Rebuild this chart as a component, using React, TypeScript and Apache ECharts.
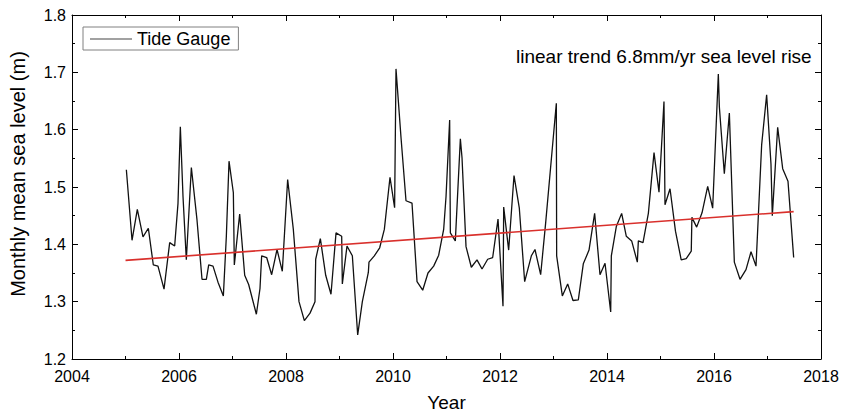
import React, { useEffect, useRef } from "react";
import * as echarts from "echarts";

// Tide gauge monthly mean sea level (decimal year, metres)
const sampleYears = [
  2005.016, 2005.122, 2005.221, 2005.327, 2005.427, 2005.52, 2005.607, 2005.72, 2005.826, 2005.919,
  2005.981, 2006.025, 2006.075, 2006.137, 2006.231, 2006.336, 2006.43, 2006.511, 2006.555, 2006.636,
  2006.729, 2006.829, 2006.885, 2006.935, 2007.016, 2007.034, 2007.134, 2007.228, 2007.302, 2007.446,
  2007.514, 2007.545, 2007.639, 2007.732, 2007.832, 2007.931, 2008.031, 2008.137, 2008.243, 2008.343,
  2008.449, 2008.542, 2008.555, 2008.642, 2008.742, 2008.841, 2008.935, 2009.041, 2009.053, 2009.14,
  2009.24, 2009.34, 2009.427, 2009.539, 2009.551, 2009.651, 2009.751, 2009.838, 2009.944, 2010.03,
  2010.056, 2010.15, 2010.243, 2010.355, 2010.449, 2010.555, 2010.654, 2010.76, 2010.854, 2010.947,
  2010.991, 2011.059, 2011.072, 2011.165, 2011.259, 2011.29, 2011.365, 2011.464, 2011.57, 2011.664,
  2011.77, 2011.863, 2011.963, 2012.056, 2012.069, 2012.162, 2012.262, 2012.361, 2012.461, 2012.586,
  2012.654, 2012.76, 2012.853, 2013.053, 2013.059, 2013.165, 2013.265, 2013.364, 2013.464, 2013.557,
  2013.664, 2013.769, 2013.869, 2013.963, 2014.069, 2014.081, 2014.174, 2014.274, 2014.361, 2014.461,
  2014.567, 2014.586, 2014.673, 2014.773, 2014.879, 2014.972, 2015.065, 2015.084, 2015.178, 2015.28,
  2015.387, 2015.48, 2015.575, 2015.587, 2015.676, 2015.776, 2015.882, 2015.975, 2016.081, 2016.1,
  2016.193, 2016.287, 2016.38, 2016.486, 2016.598, 2016.692, 2016.785, 2016.891, 2016.984, 2017.065,
  2017.09, 2017.19, 2017.284, 2017.383, 2017.489,
];
const seaLevel = [
  1.53, 1.407, 1.461, 1.413, 1.428, 1.364, 1.362, 1.322, 1.403, 1.397,
  1.471, 1.605, 1.483, 1.373, 1.534, 1.443, 1.339, 1.339, 1.364, 1.362,
  1.334, 1.31, 1.414, 1.545, 1.49, 1.364, 1.453, 1.346, 1.33, 1.278,
  1.323, 1.38, 1.377, 1.347, 1.391, 1.353, 1.513, 1.426, 1.3, 1.267,
  1.28, 1.3, 1.374, 1.41, 1.346, 1.313, 1.42, 1.414, 1.331, 1.397,
  1.38, 1.242, 1.3, 1.351, 1.369, 1.38, 1.394, 1.426, 1.517, 1.464,
  1.706, 1.586, 1.476, 1.472, 1.335, 1.32, 1.35, 1.362, 1.381, 1.426,
  1.483, 1.617, 1.42, 1.406, 1.584, 1.551, 1.396, 1.36, 1.373, 1.357,
  1.374, 1.377, 1.444, 1.292, 1.465, 1.39, 1.52, 1.463, 1.335, 1.38,
  1.391, 1.347, 1.437, 1.646, 1.38, 1.31, 1.331, 1.302, 1.303, 1.366,
  1.39, 1.454, 1.347, 1.367, 1.282, 1.38, 1.431, 1.454, 1.414, 1.406,
  1.369, 1.406, 1.403, 1.454, 1.56, 1.491, 1.649, 1.469, 1.497, 1.423,
  1.373, 1.375, 1.388, 1.447, 1.43, 1.455, 1.501, 1.463, 1.697, 1.64,
  1.523, 1.629, 1.369, 1.339, 1.356, 1.387, 1.362, 1.574, 1.661, 1.54,
  1.45, 1.604, 1.532, 1.51, 1.377,
];

// Linear trend (6.8 mm/yr) end points
const trendYears = [2005.0, 2017.489];
const trendLevels = [1.372, 1.457];

const xTickRange = [2004, 2018];
const yTickRange = [1.2, 1.8];

const seriesName = "Tide Gauge";
const annotation = "linear trend 6.8mm/yr sea level rise";
const xTitle = "Year";
const yTitle = "Monthly mean sea level (m)";

const FONT = "'Liberation Sans', Arial, Helvetica, sans-serif";

export default function App() {
  const ref = useRef<HTMLDivElement>(null);

  useEffect(() => {
    if (!ref.current) return;
    const chart = echarts.init(ref.current, null, { renderer: "svg" });

    const gaugeData = sampleYears.map((y, i) => [y, seaLevel[i]]);
    const trendData = trendYears.map((y, i) => [y, trendLevels[i]]);

    const black = "#000";
    const axisCommon = {
      axisLine: { show: true, onZero: false, lineStyle: { color: black, width: 1 } },
      axisTick: { show: true, inside: true, length: 6, lineStyle: { color: black, width: 1 } },
      minorTick: { show: true, splitNumber: 2, length: 3, lineStyle: { color: black, width: 1 } },
      splitLine: { show: false },
    };

    chart.setOption({
      animation: false,
      backgroundColor: "#fff",
      textStyle: { fontFamily: FONT },
      grid: { left: 72, right: 27, top: 15, bottom: 52, containLabel: false },
      legend: {
        data: [{ name: seriesName, icon: "rect" }],
        left: 83,
        top: 27,
        orient: "horizontal",
        itemWidth: 42,
        itemHeight: 1,
        itemGap: 5,
        padding: [3, 8, 2, 7],
        borderColor: "#808080",
        borderWidth: 1,
        itemStyle: { color: "#444" },
        textStyle: { fontSize: 18, color: black, fontFamily: FONT },
      },
      xAxis: [
        {
          type: "value",
          position: "bottom",
          min: xTickRange[0],
          max: xTickRange[1],
          interval: 2,
          ...axisCommon,
          axisLabel: {
            color: black,
            fontSize: 16,
            fontFamily: FONT,
            margin: 9,
            formatter: (v: number) => String(v),
          },
          name: xTitle,
          nameLocation: "middle",
          nameGap: 34,
          nameTextStyle: { fontSize: 19, color: black, fontFamily: FONT },
        },
        {
          type: "value",
          position: "top",
          min: xTickRange[0],
          max: xTickRange[1],
          interval: 2,
          ...axisCommon,
          axisLabel: { show: false },
        },
      ],
      yAxis: [
        {
          type: "value",
          position: "left",
          min: yTickRange[0],
          max: yTickRange[1],
          interval: 0.1,
          ...axisCommon,
          axisLabel: {
            color: black,
            fontSize: 16,
            fontFamily: FONT,
            margin: 6,
            formatter: (v: number) => v.toFixed(1),
          },
        },
        {
          type: "value",
          position: "right",
          min: yTickRange[0],
          max: yTickRange[1],
          interval: 0.1,
          ...axisCommon,
          axisLabel: { show: false },
        },
      ],
      graphic: [
        {
          type: "text",
          left: 516,
          top: 47,
          style: {
            text: annotation,
            font: `19px ${FONT}`,
            fill: black,
          },
        },
        {
          type: "text",
          x: 18,
          y: 174,
          rotation: Math.PI / 2,
          style: {
            text: yTitle,
            font: `20px ${FONT}`,
            fill: black,
            textAlign: "center",
            textVerticalAlign: "middle",
          },
        },
      ],
      series: [
        {
          name: seriesName,
          type: "line",
          xAxisIndex: 0,
          yAxisIndex: 0,
          data: gaugeData,
          symbol: "none",
          showSymbol: false,
          lineStyle: { color: "#111", width: 1.3 },
          itemStyle: { color: "#333" },
          z: 3,
        },
        {
          name: "Linear trend",
          type: "line",
          xAxisIndex: 0,
          yAxisIndex: 0,
          data: trendData,
          symbol: "none",
          showSymbol: false,
          lineStyle: { color: "#d9302c", width: 1.6 },
          z: 4,
        },
      ],
    });

    return () => chart.dispose();
  }, []);

  return (
    <div
      ref={ref}
      style={{ position: "absolute", left: 0, top: 0, width: 848, height: 417 }}
    />
  );
}
